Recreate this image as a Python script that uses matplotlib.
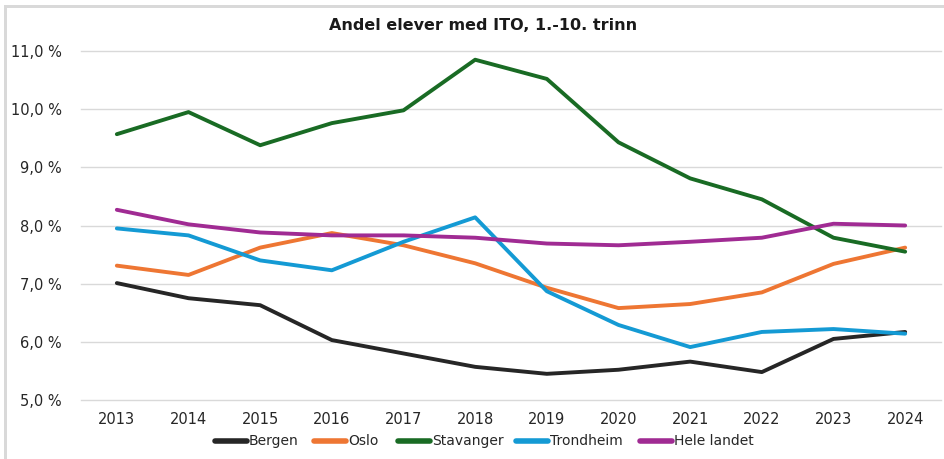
import matplotlib
matplotlib.use("Agg")
import matplotlib.pyplot as plt
from matplotlib.patches import Rectangle
from matplotlib.lines import Line2D
from matplotlib.ticker import FuncFormatter

years = ["2013", "2014", "2015", "2016", "2017", "2018", "2019", "2020", "2021", "2022", "2023", "2024"]
bergen = [7.01, 6.75, 6.63, 6.03, 5.80, 5.57, 5.45, 5.52, 5.66, 5.48, 6.05, 6.17]
oslo = [7.31, 7.15, 7.62, 7.87, 7.66, 7.35, 6.93, 6.58, 6.65, 6.85, 7.34, 7.62]
stavanger = [9.57, 9.95, 9.38, 9.76, 9.98, 10.85, 10.52, 9.43, 8.81, 8.45, 7.79, 7.55]
trondheim = [7.95, 7.83, 7.40, 7.23, 7.72, 8.14, 6.87, 6.29, 5.91, 6.17, 6.22, 6.14]
hele_landet = [8.27, 8.02, 7.88, 7.83, 7.83, 7.79, 7.69, 7.66, 7.72, 7.79, 8.03, 8.00]

series = [
    ("Bergen", bergen, "#262626"),
    ("Oslo", oslo, "#EE7633"),
    ("Stavanger", stavanger, "#196B24"),
    ("Trondheim", trondheim, "#149AD4"),
    ("Hele landet", hele_landet, "#A02B93"),
]

plt.rcParams['font.family'] = ['Liberation Sans Narrow', 'DejaVu Sans']

W, H = 945, 459
fig = plt.figure(figsize=(9.45, 4.59), dpi=100)
ax = fig.add_axes([81/W, 1-400/H, (941-81)/W, (400-51)/H])

x = list(range(len(years)))
for name, vals, col in series:
    ax.plot(x, vals, color=col, lw=2.8, label=name, solid_capstyle='round', solid_joinstyle='round')

ax.set_xlim(-0.5, len(years) - 0.5)
ax.set_ylim(5.0, 11.0)
ax.set_yticks([5, 6, 7, 8, 9, 10, 11])
ax.yaxis.set_major_formatter(FuncFormatter(lambda v, p: f"{v:.1f} %".replace(".", ",")))
ax.set_xticks(x)
ax.set_xticklabels(years)
ax.grid(axis='y', color='#D9D9D9', lw=1)
for gl in ax.get_ygridlines():
    gl.set_clip_on(False)
ax.set_axisbelow(True)
for s in ax.spines.values():
    s.set_visible(False)
ax.tick_params(axis='both', length=0, labelsize=10.5, colors='#262626')
ax.tick_params(axis='y', pad=14)
ax.tick_params(axis='x', pad=9)

fig.text(483/W, 1-25/H, "Andel elever med ITO, 1.-10. trinn", ha='center', va='center',
         fontsize=11.5, fontweight='bold', color='#1a1a1a')

# legend drawn manually for exact alignment
leg_x = [215, 314, 398, 516, 640]
leg_y = 1 - 441/H
for (name, vals, col), lx in zip(series, leg_x):
    fig.add_artist(Line2D([lx/W, (lx+32)/W], [leg_y, leg_y], transform=fig.transFigure,
                          color=col, lw=4, solid_capstyle='round'))
    fig.text((lx+34)/W, leg_y + 1.5/H, name, ha='left', va='center_baseline', fontsize=10, color='#262626')

# screenshot frame
fig.patches.append(Rectangle((7/W, 1-8/H), 1, 3/H, transform=fig.transFigure, color='#D9D9D9', lw=0))
fig.patches.append(Rectangle((4/W, 0), 3/W, 1-5/H, transform=fig.transFigure, color='#D9D9D9', lw=0))

fig.savefig("out.png", dpi=100)
